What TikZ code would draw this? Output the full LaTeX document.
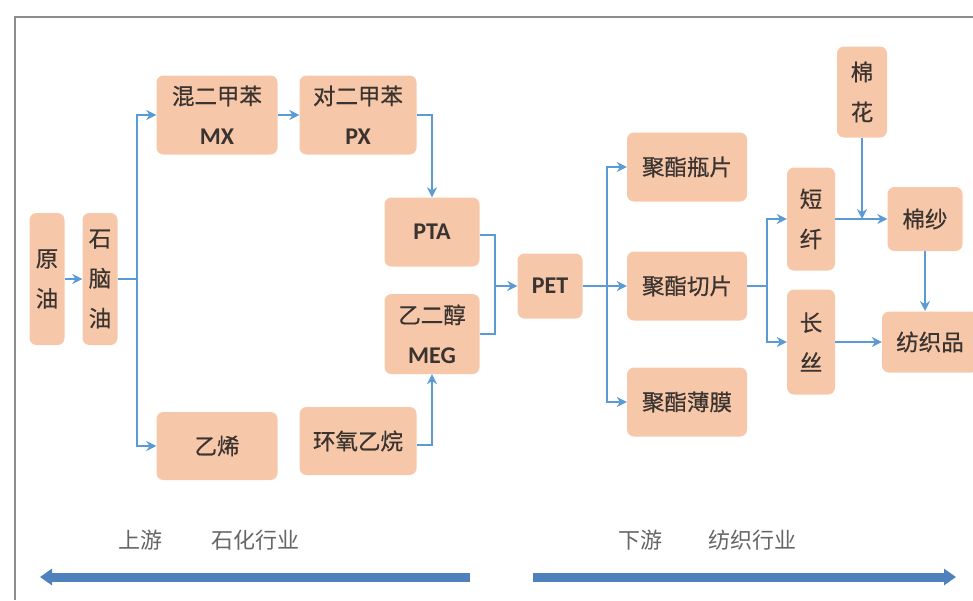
\documentclass[tikz,border=0pt]{standalone}
\usepackage{fontspec}
\newfontfamily\cjk[FakeBold=0.6]{Noto Sans CJK SC}
\newfontfamily\cjklbl{Noto Sans CJK SC}
\newfontfamily\lat{Carlito}
\usetikzlibrary{arrows.meta}
\definecolor{boxfill}{HTML}{F6C7A8}
\definecolor{txt}{HTML}{3A3330}
\definecolor{conn}{HTML}{5B9BD5}
\definecolor{big}{HTML}{4F81BD}
\definecolor{frame}{HTML}{8C8C8C}
\definecolor{lbl}{HTML}{666666}
\tikzset{
  box/.style={fill=boxfill, rounded corners=7pt, inner sep=0pt, text=txt, align=center,
    font=\cjk\fontsize{22.5}{40}\selectfont},
  ln/.style={draw=conn, line width=1.7pt},
  arr/.style={ln, -{Stealth[length=10pt,width=10pt]}},
  bigarr/.style={draw=big, line width=9pt, -{Triangle[length=12pt,width=16pt]}},
  lbltext/.style={text=lbl, font=\cjklbl\fontsize{22}{26}\selectfont, inner sep=0pt},
}
\newcommand{\lt}[1]{{\lat\bfseries\fontsize{24}{40}\selectfont #1}}
\begin{document}
\begin{tikzpicture}[x=1pt,y=-1pt]
\useasboundingbox (0,0) rectangle (973,600);
\draw[frame, line width=1.5pt] (15,600) -- (15,17) -- (973,17);

% nodes
\node[box, minimum width=35, minimum height=132] (yy) at (47,279) {原\\油};
\node[box, minimum width=35, minimum height=132] (sny) at (100,279) {石\\脑\\油};
\node[box, minimum width=121, minimum height=79] (mx) at (217,115) {混二甲苯\\\lt{MX}};
\node[box, minimum width=117, minimum height=79] (px) at (358,115) {对二甲苯\\\lt{PX}};
\node[box, minimum width=95, minimum height=69] (pta) at (432,232) {\lt{PTA}};
\node[box, minimum width=95, minimum height=80] (meg) at (432,334) {乙二醇\\\lt{MEG}};
\node[box, minimum width=121, minimum height=68] (yx) at (217,446) {乙烯};
\node[box, minimum width=117, minimum height=68] (hy) at (358,441) {环氧乙烷};
\node[box, minimum width=65, minimum height=65] (pet) at (550,286) {\lt{PET}};
\node[box, minimum width=120, minimum height=69] (pp) at (687,167) {聚酯瓶片};
\node[box, minimum width=120, minimum height=69] (qp) at (687,286) {聚酯切片};
\node[box, minimum width=120, minimum height=69] (bm) at (687,402) {聚酯薄膜};
\node[box, minimum width=50, minimum height=91] (mh) at (862,92) {棉\\花};
\node[box, minimum width=48, minimum height=103] (dx) at (811,219) {短\\纤};
\node[box, minimum width=75, minimum height=64] (ms) at (925,219) {棉纱};
\node[box, minimum width=48, minimum height=105] (cs) at (811,342) {长\\丝};
\node[box, minimum width=96, minimum height=61] (fz) at (930,342) {纺织品};

% connectors
\draw[arr] (yy.east) -- (sny.west);
\coordinate (t1) at (137,279);
\draw[ln] (sny.east) -- (t1);
\draw[arr] (t1) |- (mx.west);
\draw[arr] (t1) |- (yx.west);
\draw[arr] (mx.east) -- (px.west);
\draw[arr] (px.east) -| (pta.north);
\draw[arr] ([yshift=-4pt]hy.east) -| (meg.south);
\coordinate (m1) at (495,286);
\draw[ln] ([yshift=-3pt]pta.east) -| (m1);
\draw[ln] (meg.east) -| (m1);
\draw[arr] (m1) -- (pet.west);
\coordinate (t2) at (607,286);
\draw[ln] (pet.east) -- (t2);
\draw[arr] (t2) |- (pp.west);
\draw[arr] (t2) -- (qp.west);
\draw[arr] (t2) |- (bm.west);
\coordinate (t3) at (767,286);
\draw[ln] (qp.east) -- (t3);
\draw[arr] (t3) |- (dx.west);
\draw[arr] (t3) |- (cs.west);
\draw[arr] (dx.east) -- (ms.west);
\coordinate (j) at (862,219);
\draw[arr] (mh.south) -- (j);
\coordinate (msb) at (925,311);
\draw[arr] (ms.south) -- (msb);
\draw[arr] (cs.east) -- (fz.west);

% bottom labels and arrows
\node[lbltext] (up1) at (140,540) {上游};
\node[lbltext] (up2) at (255,540) {石化行业};
\node[lbltext] (dn1) at (640,540) {下游};
\node[lbltext] (dn2) at (752,540) {纺织行业};
\coordinate (la) at (470,577);
\coordinate (lb) at (40,577);
\coordinate (ra) at (533,577);
\coordinate (rb) at (956,577);
\draw[bigarr] (la) -- (lb);
\draw[bigarr] (ra) -- (rb);
\end{tikzpicture}
\end{document}
